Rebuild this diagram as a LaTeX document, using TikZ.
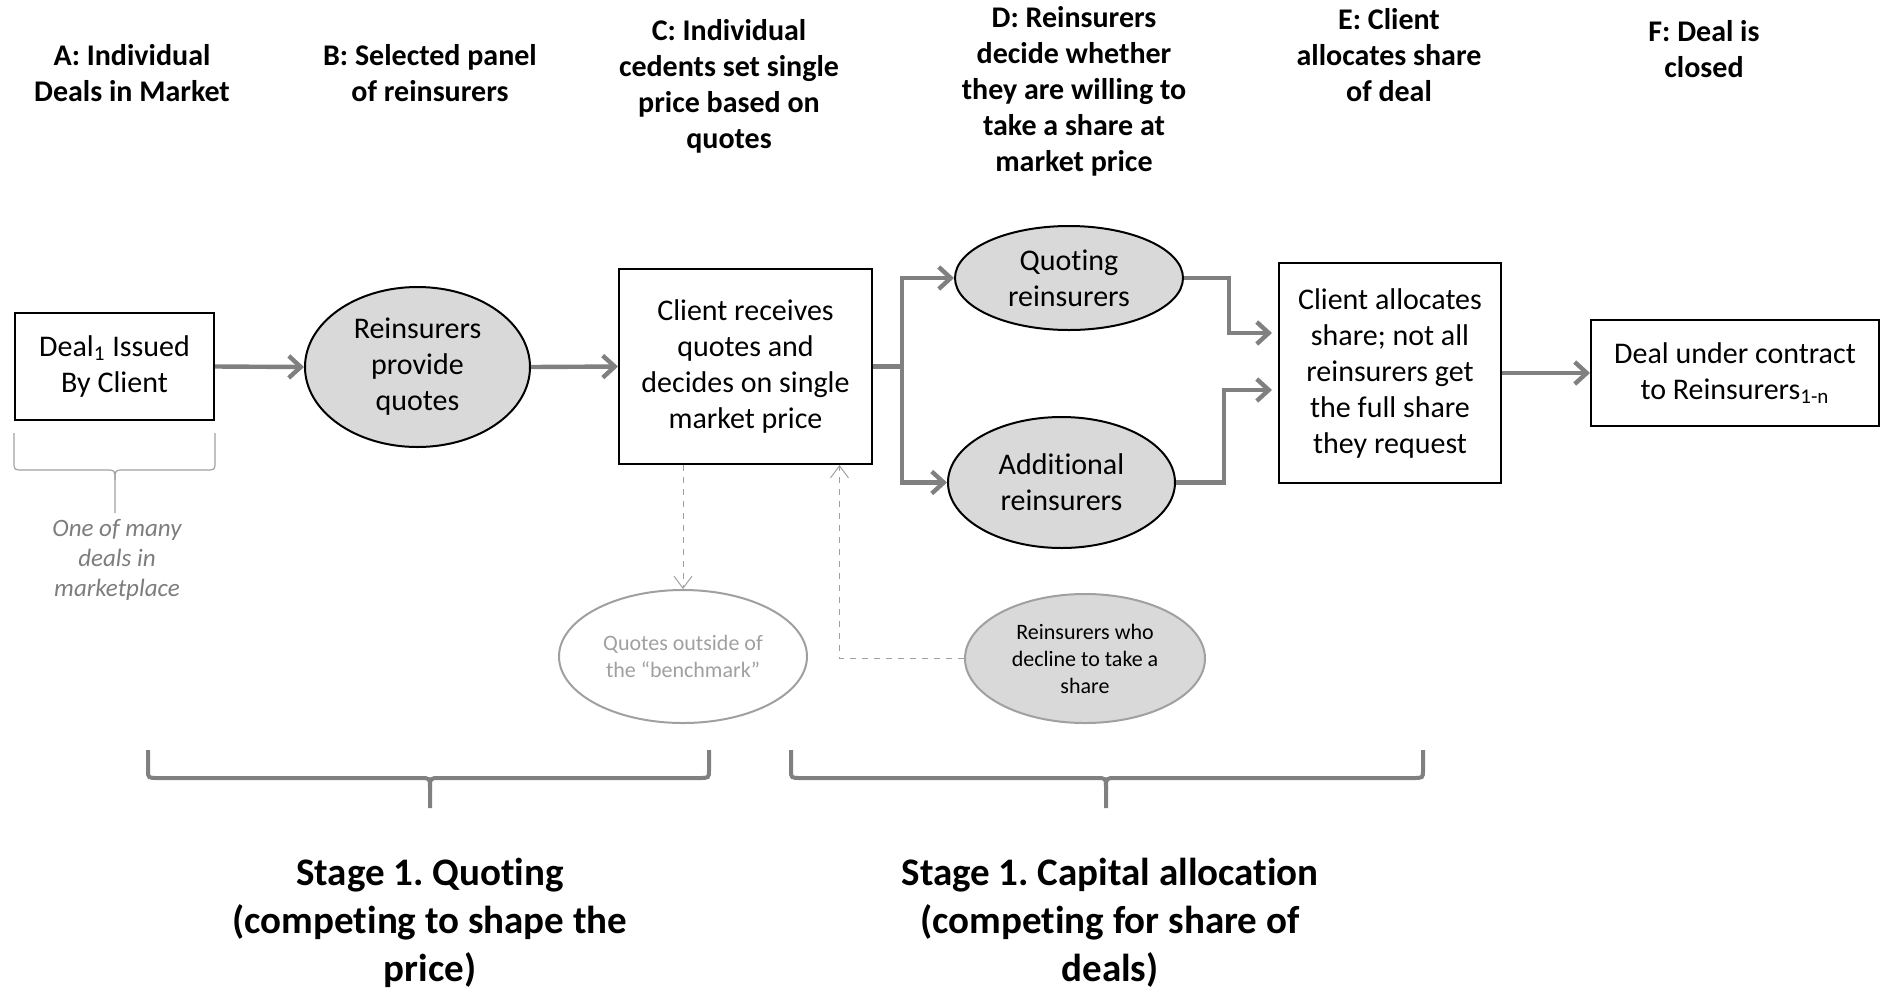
\documentclass[tikz,border=0pt]{standalone}
\usepackage{fontspec}
\usepackage{tikz}
\usepackage{color}
\usetikzlibrary{arrows.meta,shapes.geometric}
\setmainfont{Carlito}[Ligatures={TeX,NoCommon}]
\frenchspacing

\definecolor{flowgray}{RGB}{128,128,128}
\definecolor{fillgray}{RGB}{217,217,217}
\definecolor{softgray}{RGB}{160,160,160}
\definecolor{notegray}{RGB}{125,125,125}

\newcommand{\bodyfont}{\fontsize{15}{18}\selectfont}
\newcommand{\hdfont}{\fontsize{15}{18}\selectfont\bfseries}
\newcommand{\notefont}{\fontsize{11}{13.5}\selectfont}
\newcommand{\stagefont}{\fontsize{19.5}{24}\selectfont\bfseries}

\begin{document}
\begin{tikzpicture} [x=0.5pt,y=-0.5pt,
  box/.style={draw,line width=1pt,align=center,font=\bodyfont,inner sep=2pt},
  blob/.style={ellipse,draw,fill=fillgray,line width=1pt,align=center,font=\bodyfont,inner sep=0pt},
  ghost/.style={ellipse,draw=softgray,line width=1pt,align=center,font=\notefont,inner sep=0pt},
  head/.style={align=center,font=\hdfont},
  flow/.style={draw=flowgray,line width=2.2pt,-{Straight Barb[length=6pt,width=11pt]}},
  hintline/.style={draw=softgray,line width=0.5pt,dashed,-{Straight Barb[length=6pt,width=9pt]}},
  thinbrace/.style={draw=softgray,line width=0.6pt},
  stagebrace/.style={draw=flowgray,line width=2pt}]
\useasboundingbox (0,0) rectangle (1881,992);

% column headings
\node [head] (hA) at (132,73) {A: Individual\\Deals in Market};
\node [head] (hB) at (430,73) {B: Selected panel\\of reinsurers};
\node [head] (hC) at (729,86) {C: Individual\\cedents set single\\price based on\\quotes};
\node [head] (hD) at (1074,91) {D: Reinsurers\\decide whether\\they are willing to\\take a share at\\market price};
\node [head] (hE) at (1389,55) {E: Client\\allocates share\\of deal};
\node [head] (hF) at (1704,49) {F: Deal is\\closed};

% main flow
\node [box,minimum width=99.5pt,minimum height=53.5pt] (deal) at (114.5,366.5) {Deal\textsubscript{1} Issued\\By Client};
\node [blob,minimum width=112.5pt,minimum height=80pt] (provide) at (417.5,367) {Reinsurers\\provide\\quotes};
\node [box,minimum width=126.5pt,minimum height=97.5pt] (client) at (745.5,366.5) {Client receives\\quotes and\\decides on single\\market price};
\node [blob,minimum width=114pt,minimum height=52pt] (quoting) at (1069,278) {Quoting\\reinsurers};
\node [blob,minimum width=113.5pt,minimum height=65.5pt] (additional) at (1061.5,482.5) {Additional\\reinsurers};
\node [box,minimum width=111pt,minimum height=110pt] (allocate) at (1390,373) {Client allocates\\share; not all\\reinsurers get\\the full share\\they request};
\node [box,minimum width=144pt,minimum height=53pt] (final) at (1735,373) {Deal under contract\\to Reinsurers\textsubscript{1-n}};
\node [ghost,text=softgray,minimum width=124pt,minimum height=66.5pt] (benchmark) at (683,656.5) {Quotes outside of\\the “benchmark”};
\node [blob,draw=softgray,font=\notefont,minimum width=120pt,minimum height=64.5pt] (decline) at (1085,658.5) {Reinsurers who\\decline to take a\\share};
\coordinate (branch) at (902,366.5);

\draw [flow] (deal.east) -- (provide.west);
\draw [flow] (provide.east) -- (client.west);
\draw [draw=flowgray,line width=2.2pt] (client.east) -- (branch);
\draw [flow] (branch) |- (quoting.west);
\draw [flow] (branch) |- (additional.west);
\draw [flow] (quoting.east) -- ++(45,0) |- ([shift={(-6,-40)}]allocate.west);
\draw [flow] (additional.east) -- ++(48,0) |- ([shift={(-6,17)}]allocate.west);
\draw [flow] (allocate.east) -- (final.west);
\draw [hintline] (client.south -| benchmark.north) -- (benchmark.north);
\draw [hintline] (decline.west) -| ([shift={(94,0)}]client.south);

% deal brace and note
\draw [thinbrace] (14,433) -- (14,462) .. controls (14,470) .. (24,470) -- (106,470) .. controls (115,470) .. (115,480) -- (115,513);
\draw [thinbrace] (215,433) -- (215,462) .. controls (215,470) .. (205,470) -- (124,470) .. controls (115,470) .. (115,480);
\node [font=\fontsize{12.5}{15}\selectfont\itshape,text=notegray,align=center] (note) at (117,560) {One of many\\deals in\\marketplace};

% stage braces
\draw [stagebrace] (148,750) -- (148,770) .. controls (148,778) .. (158,778) -- (420,778) .. controls (430,778) .. (430,788) -- (430,808);
\draw [stagebrace] (709,750) -- (709,770) .. controls (709,778) .. (699,778) -- (440,778) .. controls (430,778) .. (430,788);
\draw [stagebrace] (791,750) -- (791,770) .. controls (791,778) .. (801,778) -- (1096,778) .. controls (1106,778) .. (1106,788) -- (1106,808);
\draw [stagebrace] (1423,750) -- (1423,770) .. controls (1423,778) .. (1413,778) -- (1116,778) .. controls (1106,778) .. (1106,788);
\node [font=\stagefont,align=center] (stageA) at (430,923) {Stage 1. Quoting\\(competing to shape the\\price)};
\node [font=\stagefont,align=center] (stageB) at (1110,923) {Stage 1. Capital allocation\\(competing for share of\\deals)};
\end{tikzpicture}
\end{document}
